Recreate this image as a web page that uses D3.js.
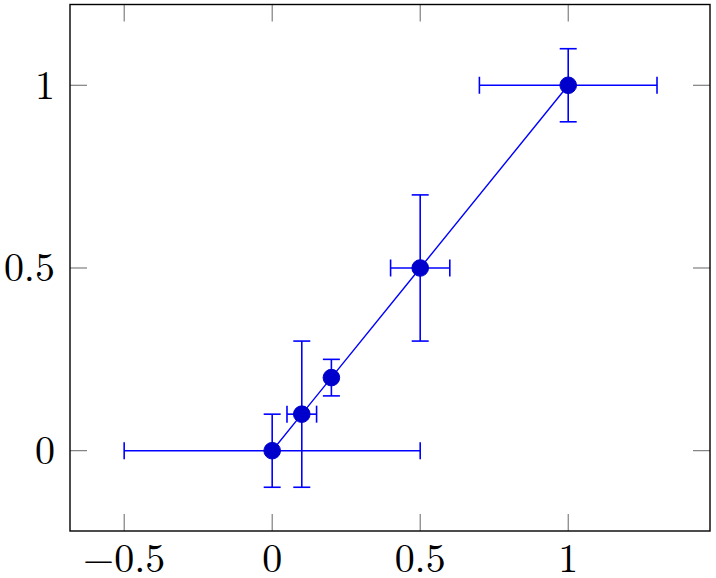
<!DOCTYPE html>
<html>
<head>
<meta charset="utf-8">
<script src="https://cdn.jsdelivr.net/npm/d3@7"></script>
<style>
  body { margin: 0; background: #fff; }
  text { font-family: "Latin Modern Roman", "CMU Serif", "DejaVu Serif", serif; }
</style>
</head>
<body>
<script>
// data: x, y, x error, y error
let xs   = [0, 0.1, 0.2, 0.5, 1];
let ys   = [0, 0.1, 0.2, 0.5, 1];
let xErr = [0.5, 0.05, 0, 0.1, 0.3];
let yErr = [0.1, 0.2, 0.05, 0.2, 0.1];
let xTicks = [-0.5, 0, 0.5, 1];
let yTicks = [0, 0.5, 1];

let W = 716, H = 578;
let box = {left: 70, right: 710, top: 4.5, bottom: 531};

let svg = d3.select("body").append("svg")
    .attr("width", W)
    .attr("height", H);

let x = d3.scaleLinear().domain([-0.683, 1.479]).range([box.left, box.right]);
let y = d3.scaleLinear().domain([-0.2197, 1.221]).range([box.bottom, box.top]);

let fmt = function(d) { return d < 0 ? "\u2212" + Math.abs(d) : String(d); };
let tickLen = 17;

// ticks on all four sides, pointing inward
let tg = svg.append("g").attr("stroke", "#666").attr("stroke-width", 1);
xTicks.forEach(function(t) {
    tg.append("line").attr("x1", x(t)).attr("x2", x(t)).attr("y1", box.bottom).attr("y2", box.bottom - tickLen);
    tg.append("line").attr("x1", x(t)).attr("x2", x(t)).attr("y1", box.top).attr("y2", box.top + tickLen);
});
yTicks.forEach(function(t) {
    tg.append("line").attr("y1", y(t)).attr("y2", y(t)).attr("x1", box.left).attr("x2", box.left + tickLen);
    tg.append("line").attr("y1", y(t)).attr("y2", y(t)).attr("x1", box.right).attr("x2", box.right - tickLen);
});

svg.selectAll(".xl").data(xTicks).enter().append("text")
    .attr("class", "xl")
    .attr("x", function(d) { return x(d); })
    .attr("y", 572)
    .attr("text-anchor", "middle")
    .attr("font-size", 40)
    .text(fmt);

svg.selectAll(".yl").data(yTicks).enter().append("text")
    .attr("class", "yl")
    .attr("x", 55)
    .attr("y", function(d) { return y(d) + 13.5; })
    .attr("text-anchor", "end")
    .attr("font-size", 40)
    .text(fmt);

let blue = "#0000ff";
let cap = 8.5;
let data = xs.map(function(v, i) { return {x: v, y: ys[i], ex: xErr[i], ey: yErr[i]}; });

// connecting line
svg.append("path")
    .datum(data)
    .attr("fill", "none")
    .attr("stroke", blue)
    .attr("stroke-width", 1.4)
    .attr("d", d3.line().x(function(d) { return x(d.x); }).y(function(d) { return y(d.y); }));

// error bars
let eg = svg.append("g").attr("stroke", blue).attr("stroke-width", 1.6);
data.forEach(function(d) {
    if (d.ex > 0) {
        eg.append("line").attr("x1", x(d.x - d.ex)).attr("x2", x(d.x + d.ex)).attr("y1", y(d.y)).attr("y2", y(d.y));
        [d.x - d.ex, d.x + d.ex].forEach(function(v) {
            eg.append("line").attr("x1", x(v)).attr("x2", x(v)).attr("y1", y(d.y) - cap).attr("y2", y(d.y) + cap);
        });
    }
    if (d.ey > 0) {
        eg.append("line").attr("x1", x(d.x)).attr("x2", x(d.x)).attr("y1", y(d.y - d.ey)).attr("y2", y(d.y + d.ey));
        [d.y - d.ey, d.y + d.ey].forEach(function(v) {
            eg.append("line").attr("x1", x(d.x) - cap).attr("x2", x(d.x) + cap).attr("y1", y(v)).attr("y2", y(v));
        });
    }
});

// markers
svg.selectAll("circle").data(data).enter().append("circle")
    .attr("cx", function(d) { return x(d.x); })
    .attr("cy", function(d) { return y(d.y); })
    .attr("r", 8.3)
    .attr("fill", "#0000cc")
    .attr("stroke", "#0000cc")
    .attr("stroke-width", 1);

// axis box
svg.append("rect")
    .attr("x", box.left).attr("y", box.top)
    .attr("width", box.right - box.left).attr("height", box.bottom - box.top)
    .attr("fill", "none")
    .attr("stroke", "#000")
    .attr("stroke-width", 1.4);
</script>
</body>
</html>
